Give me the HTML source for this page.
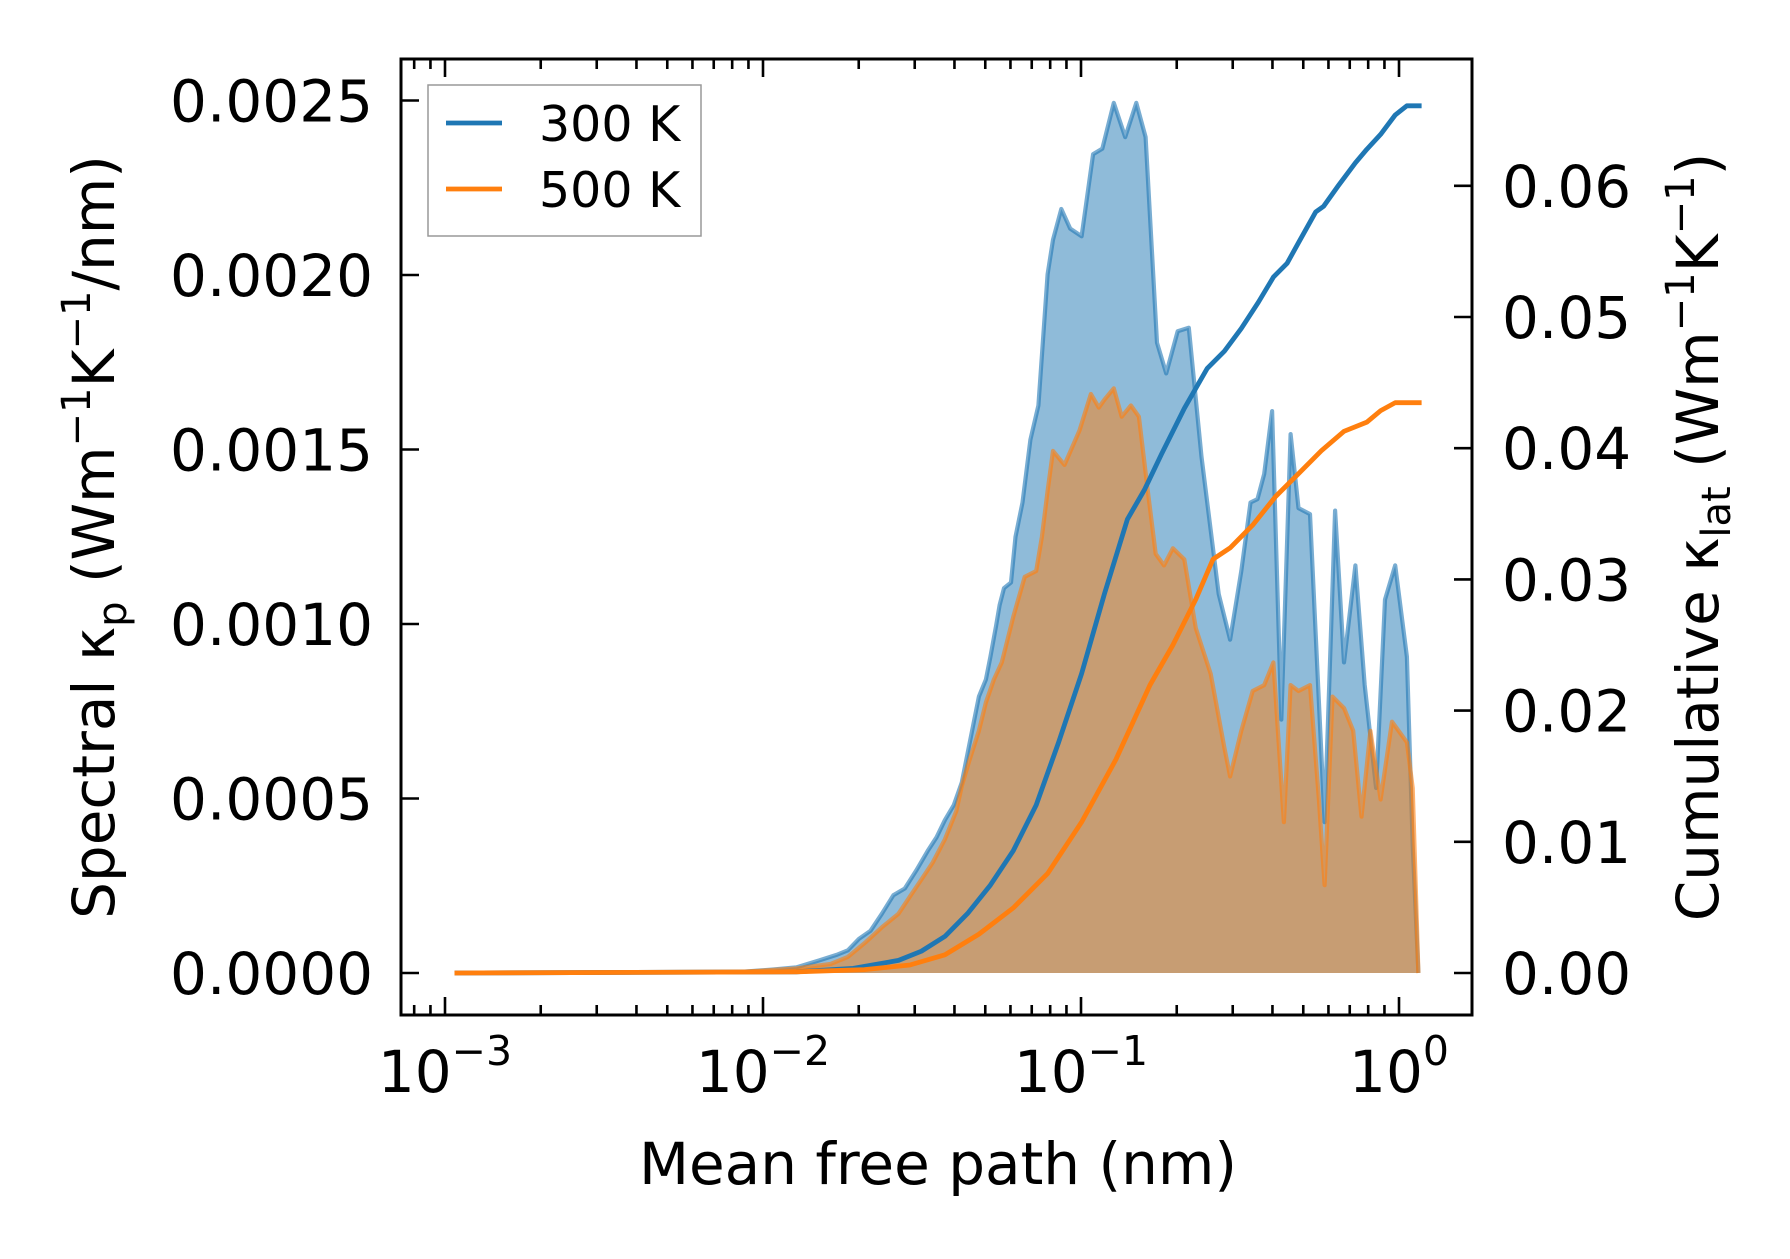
<!DOCTYPE html>
<html><head><meta charset="utf-8"><style>
html,body{margin:0;padding:0;background:#fff;}
svg text{font-family:"DejaVu Sans","Liberation Sans",sans-serif;fill:#000;}
</style></head><body>
<svg id="chart" width="1790" height="1254" viewBox="0 0 1790 1254" xmlns="http://www.w3.org/2000/svg">
<g id="plot"></g>
</svg>
<script>
// Spectral kappa, 300 K (log10 mfp, value in 1e-3 W/mK/nm)
const specLog300 = [-2.97,-2.074,-1.967,-1.895,-1.859,-1.823,-1.769,-1.733,-1.698,-1.662,-1.626,-1.590,-1.554,-1.518,-1.482,-1.454,-1.428,-1.400,-1.375,-1.357,-1.339,-1.321,-1.299,-1.285,-1.267,-1.256,-1.242,-1.220,-1.206,-1.184,-1.159,-1.134,-1.105,-1.088,-1.062,-1.034,-0.998,-0.962,-0.933,-0.897,-0.861,-0.826,-0.797,-0.761,-0.732,-0.696,-0.661,-0.621,-0.567,-0.531,-0.496,-0.467,-0.445,-0.424,-0.399,-0.370,-0.341,-0.316,-0.280,-0.234,-0.201,-0.173,-0.137,-0.108,-0.072,-0.044,-0.012,0.025,0.043,0.061];
const specVal300 = [0,0.003,0.010,0.016,0.026,0.036,0.052,0.065,0.098,0.121,0.170,0.223,0.242,0.294,0.350,0.389,0.438,0.481,0.546,0.628,0.710,0.792,0.841,0.906,0.995,1.054,1.103,1.119,1.250,1.348,1.528,1.626,2.002,2.101,2.189,2.133,2.111,2.346,2.362,2.493,2.395,2.493,2.395,1.806,1.718,1.839,1.849,1.479,1.086,0.955,1.152,1.348,1.358,1.430,1.610,0.726,1.544,1.332,1.315,0.432,1.325,0.890,1.168,0.825,0.530,1.070,1.168,0.906,0.366,0];
// Spectral kappa, 500 K
const specLog500 = [-2.97,-2.074,-1.895,-1.787,-1.733,-1.681,-1.626,-1.574,-1.538,-1.502,-1.466,-1.428,-1.392,-1.375,-1.350,-1.321,-1.299,-1.274,-1.249,-1.213,-1.177,-1.141,-1.123,-1.105,-1.088,-1.052,-1.005,-0.969,-0.944,-0.926,-0.897,-0.872,-0.843,-0.818,-0.790,-0.765,-0.739,-0.711,-0.675,-0.639,-0.592,-0.549,-0.531,-0.496,-0.460,-0.424,-0.395,-0.362,-0.341,-0.316,-0.280,-0.252,-0.234,-0.209,-0.173,-0.144,-0.118,-0.090,-0.058,-0.022,0.025,0.043,0.061];
const specVal500 = [0,0.003,0.013,0.026,0.046,0.085,0.131,0.170,0.219,0.268,0.317,0.383,0.464,0.536,0.612,0.694,0.775,0.841,0.890,1.021,1.135,1.152,1.250,1.381,1.496,1.456,1.554,1.659,1.620,1.643,1.675,1.594,1.626,1.594,1.381,1.201,1.168,1.217,1.185,0.988,0.857,0.645,0.563,0.694,0.808,0.825,0.890,0.432,0.825,0.808,0.825,0.497,0.252,0.792,0.759,0.694,0.448,0.694,0.497,0.720,0.661,0.530,0];
// Cumulative kappa (1e-2 W/mK)
const cumLog300 = [-2.97,-1.895,-1.716,-1.574,-1.502,-1.428,-1.357,-1.285,-1.213,-1.141,-1.070,-0.998,-0.926,-0.854,-0.800,-0.747,-0.675,-0.603,-0.549,-0.496,-0.442,-0.395,-0.352,-0.316,-0.262,-0.237,-0.191,-0.137,-0.101,-0.058,-0.012,0.025,0.071];
const cumVal300 = [0,0.009,0.035,0.096,0.166,0.279,0.453,0.670,0.932,1.280,1.760,2.282,2.892,3.458,3.685,3.955,4.303,4.608,4.739,4.913,5.113,5.304,5.409,5.566,5.801,5.844,6.001,6.175,6.279,6.392,6.540,6.610,6.610];
const cumLog500 = [-2.97,-1.895,-1.681,-1.538,-1.428,-1.321,-1.213,-1.105,-0.998,-0.890,-0.783,-0.711,-0.639,-0.585,-0.531,-0.460,-0.388,-0.316,-0.244,-0.173,-0.101,-0.058,-0.012,0.032,0.071];
const cumVal500 = [0,0.009,0.026,0.061,0.139,0.296,0.496,0.758,1.150,1.629,2.195,2.500,2.848,3.153,3.240,3.414,3.632,3.806,3.981,4.129,4.199,4.286,4.347,4.347,4.347];
const leftTicks = ["0.0000","0.0005","0.0010","0.0015","0.0020","0.0025"];
const rightTicks = ["0.00","0.01","0.02","0.03","0.04","0.05","0.06"];
const xDecades = [-3,-2,-1,0];

const NS="http://www.w3.org/2000/svg";
const g=document.getElementById('plot');
const L=401,R=1472,T=59,B=1015;
const xS=l=>445+(l+3)*318;
const yL=v=>973-(v/0.5)*174.5;          // v in 1e-3
const yR=v=>973-v*131.2;                // v in 1e-2
function mk(tag,attrs,parent){const e=document.createElementNS(NS,tag);for(const k in attrs)e.setAttribute(k,attrs[k]);(parent||g).appendChild(e);return e;}
function pts(xs,ys,yf){return xs.map((l,i)=>xS(l).toFixed(1)+','+yf(ys[i]).toFixed(1)).join(' ');}
function fillPts(xs,ys){return pts(xs,ys,yL)+' '+xS(xs[xs.length-1]).toFixed(1)+','+yL(0)+' '+xS(xs[0]).toFixed(1)+','+yL(0);}

let e;
e=mk('polygon',{points:fillPts(specLog300,specVal300),fill:'#1f77b4','fill-opacity':0.5});


e=mk('polyline',{points:pts(specLog300,specVal300,yL),fill:'none',stroke:'#1f77b4','stroke-opacity':0.6,'stroke-width':4.2,'stroke-linejoin':'round'});


e=mk('polygon',{points:fillPts(specLog500,specVal500),fill:'#ff7f0e','fill-opacity':0.5});


e=mk('polyline',{points:pts(specLog500,specVal500,yL),fill:'none',stroke:'#ff7f0e','stroke-opacity':0.6,'stroke-width':4.2,'stroke-linejoin':'round'});


e=mk('polyline',{points:pts(cumLog300,cumVal300,yR),fill:'none',stroke:'#1f77b4','stroke-width':4.8,'stroke-linejoin':'round'});


e=mk('polyline',{points:pts(cumLog500,cumVal500,yR),fill:'none',stroke:'#ff7f0e','stroke-width':4.8,'stroke-linejoin':'round'});



// frame
e=mk('rect',{x:L,y:T,width:R-L,height:B-T,fill:'none',stroke:'#000','stroke-width':3});



// x ticks
for(let d=-4;d<=0;d++){
  for(let m=1;m<10;m++){
    const l=d+Math.log10(m);const x=xS(l);
    if(x<L+2||x>R-2)continue;
    const len=m===1?18:10;
    e=mk('line',{x1:x,x2:x,y1:B,y2:B-len,stroke:'#000','stroke-width':2.6});
    
    
    e=mk('line',{x1:x,x2:x,y1:T,y2:T+len,stroke:'#000','stroke-width':2.6});
    
    
  }
}
xDecades.forEach(d=>{
  const t=mk('text',{x:xS(d),y:1092,'font-size':58,'text-anchor':'middle'});
  
  
  const a=mk('tspan',{},t);a.textContent='10';
  const b=mk('tspan',{dy:-27,'font-size':41},t);b.textContent=(d<0?'\u2212'+(-d):String(d));
});
leftTicks.forEach((s,i)=>{
  const y=yL(parseFloat(s)*1000);
  e=mk('line',{x1:L,x2:L+18,y1:y,y2:y,stroke:'#000','stroke-width':2.6});
  
  
  const t=mk('text',{x:373,y:y+21,'font-size':58,'text-anchor':'end'});t.textContent=s;
  
  
});
rightTicks.forEach((s,i)=>{
  const y=yR(parseFloat(s)*100);
  e=mk('line',{x1:R,x2:R-18,y1:y,y2:y,stroke:'#000','stroke-width':2.6});
  
  
  const t=mk('text',{x:1502,y:y+21,'font-size':58,'text-anchor':'start'});t.textContent=s;
  
  
});
</script>
<svg style="position:absolute;left:0;top:0" width="1790" height="1254" xmlns="http://www.w3.org/2000/svg">
<text x="938" y="1184" font-size="58" text-anchor="middle">Mean free path (nm)</text>
<text transform="translate(114,537) rotate(-90)" font-size="58" text-anchor="middle">Spectral κ<tspan font-size="40" dy="12">p</tspan><tspan dy="-12"> (Wm</tspan><tspan font-size="40" dy="-24">−1</tspan><tspan dy="24">K</tspan><tspan font-size="40" dy="-24">−1</tspan><tspan dy="24">/nm)</tspan></text>
<text transform="translate(1718,537) rotate(-90)" font-size="58" text-anchor="middle">Cumulative κ<tspan font-size="40" dy="12">lat</tspan><tspan dy="-12"> (Wm</tspan><tspan font-size="40" dy="-24">−1</tspan><tspan dy="24">K</tspan><tspan font-size="40" dy="-24">−1</tspan><tspan dy="24">)</tspan></text>
<g>
<rect x="428" y="85" width="273" height="151" fill="#fff" fill-opacity="0.8" stroke="#999" stroke-width="1.5"/>
<line x1="446" x2="502" y1="123" y2="123" stroke="#1f77b4" stroke-width="4.8"/>
<text x="539" y="141" font-size="49">300 K</text>
<line x1="446" x2="502" y1="189" y2="189" stroke="#ff7f0e" stroke-width="4.8"/>
<text x="539" y="207" font-size="49">500 K</text>
</g>
</svg>
</body></html>
